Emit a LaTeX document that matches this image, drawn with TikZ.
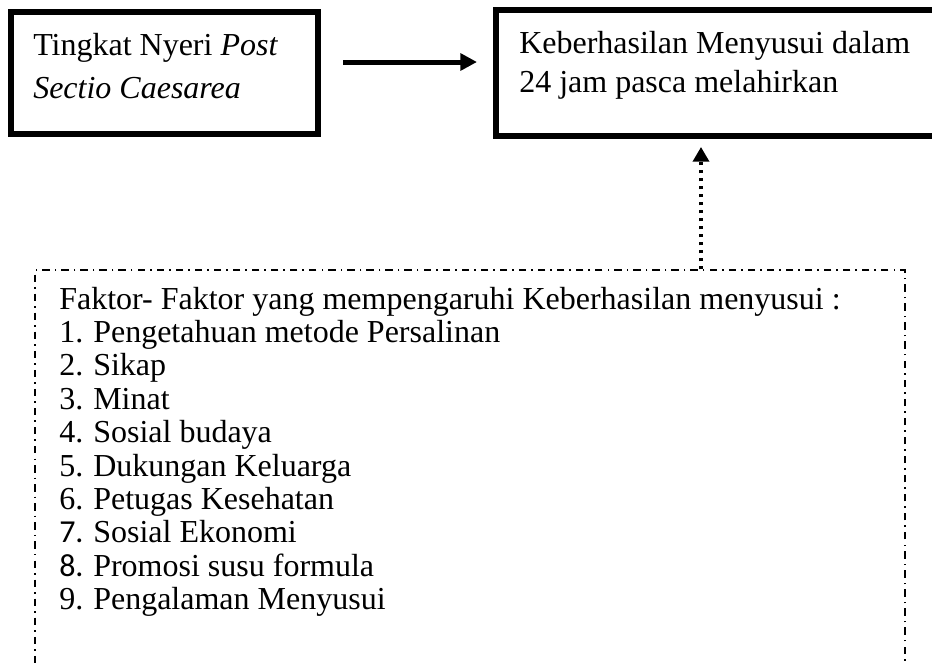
\documentclass[tikz,border=0pt]{standalone}
\usepackage{fontspec}
\setmainfont{Liberation Serif}
\newfontfamily\numfont{Carlito}
\usetikzlibrary{arrows.meta}
\begin{document}
\begin{tikzpicture}[x=0.75pt,y=-0.75pt,
  boxstyle/.style={draw=black,line width=4.5pt,minimum width=0,minimum height=0,inner sep=0pt},
  txt/.style={anchor=base west,inner sep=0pt,font=\fontsize{24}{28}\selectfont},
  factorbox/.style={draw=black,line width=1.1pt,dash pattern=on 5.5pt off 3.8pt on 1.2pt off 3.8pt,inner sep=0pt},
  mainarrow/.style={line width=3.75pt,-{Triangle[length=12.5pt,width=12.5pt]}},
  dotarrow/.style={line width=2.6pt,dash pattern=on 2.6pt off 3.4pt,-{Triangle[length=11pt,width=12pt]}}
]
\useasboundingbox (0,0) rectangle (932,665);
\begin{scope}
\clip (0,0) rectangle (932,665);
% boxes
\node[boxstyle,minimum width=230.25pt,minimum height=91.5pt] (box1) at (164.5,73) {};
\node[boxstyle,minimum width=329.25pt,minimum height=94.5pt] (box2) at (715.5,73) {};
\node[factorbox,minimum width=652.5pt,minimum height=307.5pt] (factors) at (470,475) {};
\end{scope}
% texts
\node[txt] (t1a) at (33,55) {Tingkat Nyeri \textit{Post}};
\node[txt] (t1b) at (33,98) {\textit{Sectio Caesarea}};
\node[txt] (t2a) at (519,53) {Keberhasilan Menyusui dalam};
\node[txt] (t2b) at (519,92) {24 jam pasca melahirkan};
\node[txt] (h) at (59,309) {Faktor- Faktor yang mempengaruhi Keberhasilan menyusui :};
\foreach \n/\t/\k in {1./Pengetahuan metode Persalinan/1, 2./Sikap/2, 3./Minat/3, 4./Sosial budaya/4, 5./Dukungan Keluarga/5, 6./Petugas Kesehatan/6, 9./Pengalaman Menyusui/9}{
  \node[txt] (n\k) at (59,309+33.4*\k) {\n};
  \node[txt] (i\k) at (93,309+33.4*\k) {\t};
}
\node[txt] (n7) at (59,309+33.4*7) {\numfont 7.};
\node[txt] (i7) at (93,309+33.4*7) {Sosial Ekonomi};
\node[txt] (n8) at (59,309+33.4*8) {\numfont 8.};
\node[txt] (i8) at (93,309+33.4*8) {Promosi susu formula};
% connectors
\draw[mainarrow,shorten <=16.5pt,shorten >=12pt] ([yshift=8.25pt]box1.east) -- ([yshift=8.25pt]box1.east -| box2.west);
\coordinate (dx) at (701,0);
\draw[dotarrow,shorten >=6pt] (factors.north -| dx) -- (box2.south -| dx);
\end{tikzpicture}
\end{document}
